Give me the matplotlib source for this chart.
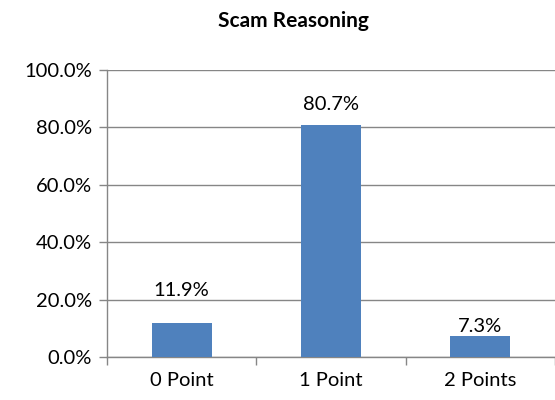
import matplotlib
matplotlib.use("Agg")
import matplotlib.pyplot as plt
import numpy as np

categories = ["0 Point", "1 Point", "2 Points"]
values = [11.9, 80.7, 7.3]
yticks = [0, 20, 40, 60, 80, 100]
title = "Scam Reasoning"
label_offsets = [17, 9, 1]  # points above bar top

plt.rcParams['font.family'] = ['Lato', 'DejaVu Sans']

W, H = 555, 400
fig = plt.figure(figsize=(W/100, H/100), dpi=100)
left, right, top, bottom = 107, 555, 70, 357
ax = fig.add_axes([left/W, 1 - bottom/H, (right-left)/W, (bottom-top)/H])

x = np.arange(len(categories))
gray = "#868686"
fs = 14.5
ax.bar(x, values, width=0.4, color="#4F81BD", zorder=3)
for xi, v, off in zip(x, values, label_offsets):
    ax.annotate(f"{v:.1f}%", (xi, v), xytext=(0, off), textcoords="offset points",
                ha="center", va="bottom", fontsize=fs, color="#000000")

ax.set_xlim(-0.5, 2.5 - 8/152)
ax.set_ylim(0, 100)
ax.set_yticks(yticks)
ax.set_yticklabels([f"{t:.1f}%" for t in yticks], fontsize=fs)
ax.yaxis.grid(True, color=gray, linewidth=1, zorder=0)
ax.set_xticks(x)
ax.set_xticklabels(categories, fontsize=fs)
ax.set_xticks([-0.5, 0.5, 1.5, 2.5], minor=True)
ax.tick_params(axis='x', which='major', length=0, pad=11)
ax.tick_params(axis='x', which='minor', length=6, color=gray, width=1)
ax.tick_params(axis='y', length=6, color=gray, width=1, pad=5)
for s in ["top", "right"]:
    ax.spines[s].set_visible(False)
for s in ["left", "bottom"]:
    ax.spines[s].set_color(gray)
    ax.spines[s].set_linewidth(1)

fig.text(293/W, 1 - 21/H, title, ha="center", va="center",
         fontsize=15, fontweight="bold")
fig.savefig("out.png", dpi=100)
